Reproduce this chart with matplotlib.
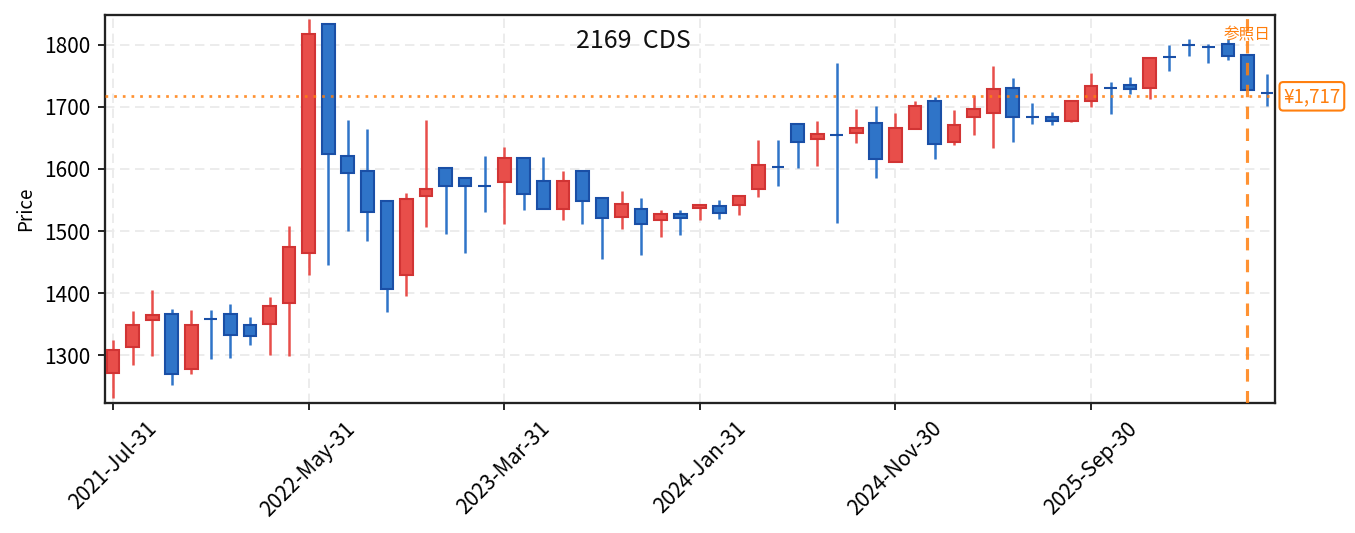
import matplotlib
matplotlib.use("Agg")
import matplotlib.pyplot as plt
import pandas as pd

plt.rcParams['font.family'] = ['Noto Sans CJK JP', 'DejaVu Sans']

# monthly candles, 2021-07 .. 2026-06
dates = pd.date_range("2021-07-31", periods=60, freq="ME")
opens = [1272, 1313, 1357, 1366, 1278, 1358, 1366, 1348, 1350, 1384,
         1465, 1834, 1621, 1597, 1549, 1429, 1556, 1602, 1586, 1572,
         1579, 1617, 1580, 1535, 1597, 1554, 1523, 1536, 1517, 1528,
         1537, 1540, 1542, 1568, 1603, 1673, 1648, 1655, 1658, 1674,
         1611, 1665, 1710, 1643, 1684, 1690, 1730, 1683, 1684, 1677,
         1709, 1731, 1736, 1731, 1781, 1799, 1796, 1801, 1783, 1723]
closes = [1308, 1348, 1364, 1270, 1348, 1358, 1333, 1331, 1380, 1475,
          1817, 1624, 1594, 1531, 1407, 1551, 1568, 1572, 1572, 1572,
          1617, 1559, 1535, 1580, 1548, 1521, 1544, 1511, 1528, 1521,
          1542, 1529, 1556, 1607, 1603, 1643, 1657, 1655, 1666, 1616,
          1666, 1702, 1640, 1671, 1697, 1728, 1683, 1683, 1677, 1709,
          1733, 1731, 1728, 1778, 1781, 1799, 1796, 1782, 1727, 1723]
highs = [1325, 1371, 1405, 1374, 1373, 1373, 1382, 1362, 1394, 1508,
         1841, 1834, 1679, 1664, 1549, 1561, 1679, 1602, 1586, 1621,
         1635, 1617, 1619, 1597, 1597, 1554, 1564, 1553, 1534, 1534,
         1542, 1550, 1556, 1647, 1647, 1673, 1677, 1770, 1696, 1701,
         1690, 1709, 1716, 1695, 1719, 1766, 1746, 1706, 1691, 1709,
         1755, 1740, 1748, 1778, 1800, 1810, 1802, 1810, 1783, 1753]
lows = [1231, 1285, 1298, 1252, 1269, 1294, 1296, 1316, 1300, 1299,
        1429, 1445, 1500, 1484, 1370, 1396, 1507, 1496, 1465, 1531,
        1512, 1534, 1535, 1518, 1512, 1455, 1504, 1462, 1491, 1494,
        1517, 1520, 1526, 1555, 1573, 1602, 1605, 1513, 1642, 1586,
        1611, 1664, 1616, 1639, 1655, 1634, 1644, 1673, 1670, 1675,
        1700, 1689, 1720, 1713, 1758, 1782, 1771, 1775, 1727, 1702]

ref_price = 1717
ref_index = 58
title = "2169  CDS"

up_fill, up_edge = "#e84e4a", "#d13434"
dn_fill, dn_edge = "#2f74c8", "#1a4fa6"
orange = "#ff7f0e"

fig = plt.figure(figsize=(1355 / 150, 533 / 150), dpi=150)
ax = fig.add_axes([0.0775, 0.2439, 0.8635, 0.728])

xs = list(range(len(dates)))
for i in xs:
    o, c, h, l = opens[i], closes[i], highs[i], lows[i]
    up = c > o
    fill = up_fill if up else dn_fill
    edge = up_edge if up else dn_edge
    ax.vlines(i, l, h, color=fill, linewidth=1.2, zorder=2)
    ax.bar(i, abs(c - o), bottom=min(o, c), width=0.65, color=fill,
           edgecolor=edge, linewidth=1.0, zorder=3)

ax.axhline(ref_price, color=orange, linestyle=(0, (1, 2.2)), linewidth=1.3,
           alpha=0.85, zorder=4)
ax.axvline(ref_index, color=orange, linestyle=(0, (4, 3)), linewidth=1.5,
           alpha=0.85, zorder=4)
ax.text(ref_index, 0.97, "参照日", transform=ax.get_xaxis_transform(),
        ha="center", va="top", color=orange, fontsize=7.5, zorder=5)
ax.text(1.007, ref_price, "¥1,717", transform=ax.get_yaxis_transform(),
        ha="left", va="center", color=orange, fontsize=9,
        bbox=dict(boxstyle="round,pad=0.2", fc="white", ec=orange, lw=1.0),
        clip_on=False)

ax.text(0.452, 0.933, title, transform=ax.transAxes, ha="center",
        va="center", fontsize=12, color="#111111")

ax.set_xlim(-0.41, len(dates) - 1 + 0.41)
ax.set_ylim(1223, 1848)
ticks = xs[::10]
ax.set_xticks(ticks)
ax.set_xticklabels([dates[i].strftime("%Y-%b-%d") for i in ticks],
                   rotation=45, fontsize=10)
ax.set_yticks([1300, 1400, 1500, 1600, 1700, 1800])
ax.tick_params(axis="y", labelsize=10)
ax.set_ylabel("Price", fontsize=9)
ax.grid(True, linestyle=(0, (5, 3)), color="#ebebeb", linewidth=0.9, zorder=0)
ax.set_axisbelow(True)
for s in ax.spines.values():
    s.set_color("#222222")
    s.set_linewidth(1.1)

fig.savefig("out.png", dpi=150)
